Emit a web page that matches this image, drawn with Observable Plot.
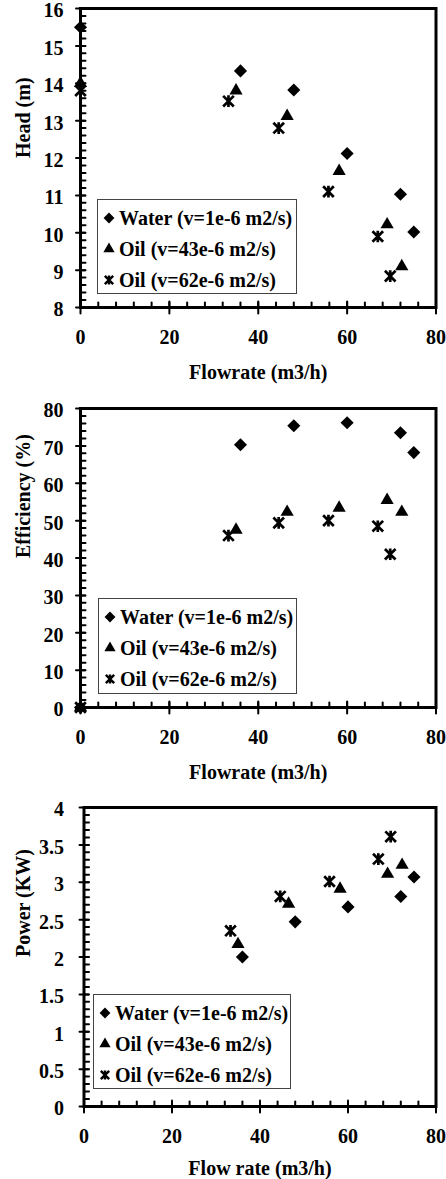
<!DOCTYPE html>
<html><head><meta charset="utf-8">
<script src="https://cdn.jsdelivr.net/npm/d3@7"></script>
<script src="https://cdn.jsdelivr.net/npm/@observablehq/plot@0.6"></script>
<style>
body{margin:0;background:#fff;}
#root{width:446px;}
.panel{position:relative;width:446px;}
.panel svg{display:block;}
g[aria-label="xtitle"] text{letter-spacing:1px;}
.legend{position:absolute;border:1px solid #444;background:#fff;box-sizing:border-box;font:bold 20px "Liberation Serif","Times New Roman",serif;color:#000;}
.row{position:absolute;left:0;height:30px;display:flex;align-items:center;white-space:nowrap;}
.row svg{margin-left:4px;margin-right:3px;}
</style></head><body><div id="root"></div>
<script>
// ---- data ----
const seriesNames = ["Water (v=1e-6 m2/s)", "Oil (v=43e-6 m2/s)", "Oil (v=62e-6 m2/s)"];
const flowWater = [0, 36, 48, 60, 72, 75];
const flowOil43 = [0, 35, 46.5, 58.2, 69, 72.3];
const flowOil62 = [0, 33.3, 44.6, 55.8, 66.9, 69.7];

const headWater = [15.5, 14.33, 13.82, 12.12, 11.03, 10.02];
const headOil43 = [14.0, 13.8, 13.12, 11.65, 10.22, 9.1];
const headOil62 = [13.8, 13.52, 12.8, 11.1, 9.9, 8.84];

const effWater = [0, 70.3, 75.4, 76.2, 73.5, 68.2];
const effOil43 = [0, 47.5, 52.3, 53.4, 55.5, 52.3];
const effOil62 = [0, 46, 49.4, 50, 48.5, 41];

const powerWater = [null, 2.0, 2.47, 2.67, 2.81, 3.07];
const powerOil43 = [null, 2.17, 2.71, 2.91, 3.11, 3.23];
const powerOil62 = [null, 2.35, 2.81, 3.01, 3.31, 3.61];

const flowTicks = [0, 20, 40, 60, 80];
const headTicks = [8, 9, 10, 11, 12, 13, 14, 15, 16];
const effTicks = [0, 10, 20, 30, 40, 50, 60, 70, 80];
const powerTicks = [0, 0.5, 1, 1.5, 2, 2.5, 3, 3.5, 4];

// ---- helpers ----
const FONT = '"Liberation Serif","Times New Roman",serif';
const FS = 20;
const tickShape = {draw(ctx, l) { ctx.moveTo(0, 0); ctx.lineTo(0, -l); }};
const star = {draw(ctx, size) {
  const r = Math.sqrt(size) / 2;
  ctx.moveTo(-r, -r); ctx.lineTo(r, r);
  ctx.moveTo(-r, r); ctx.lineTo(r, -r);
  ctx.moveTo(0, -r * 1.1); ctx.lineTo(0, r * 1.1);
}};
const styles = [
  {symbol: "diamond2", r: 5.9, fill: "black", stroke: "none"},
  {symbol: "triangle", r: 4.9, fill: "black", stroke: "none"},
  {symbol: star, r: 6.0, fill: "none", stroke: "black", strokeWidth: 2.7}
];
function pairs(flows, vals) {
  return flows.map((f, i) => ({flow: f, v: vals[i]})).filter(d => d.v != null);
}
function range(a, b, s) { const out = []; for (let i = 0; a + i * s <= b + 1e-9; i++) out.push(+(a + i * s).toFixed(6)); return out; }

function panel({sets, yDomain, yMajor, yStep, yLabel, xLabel, marginLeft, height, yLabelDx, yTitleDx, xTitleDy, legend}) {
  const wrap = document.createElement("div");
  wrap.className = "panel";
  const textOpts = {fontSize: FS, fontWeight: "bold", fontFamily: FONT, fill: "black"};
  const tickOpts = {shape: tickShape, stroke: "black", strokeWidth: 2};
  const yMinor = range(yDomain[0], yDomain[1], yStep);
  const xMinor = range(0, 80, 4);
  const plot = Plot.plot({
    width: 446, height,
    marginTop: 8, marginRight: 10.5, marginLeft, marginBottom: height - 8 - 299,
    x: {domain: [0, 80], axis: null},
    y: {domain: yDomain, axis: null},
    style: {fontFamily: FONT, background: "white", color: "black", overflow: "visible"},
    marks: [
      Plot.frame({stroke: "black", strokeWidth: 3}),
      Plot.vector(xMinor, {x: d => d, frameAnchor: "bottom", length: 5, anchor: "start", ...tickOpts}),
      Plot.vector(flowTicks, {x: d => d, frameAnchor: "bottom", length: 12, anchor: "middle", ...tickOpts}),
      Plot.vector(yMinor, {y: d => d, frameAnchor: "left", length: 5, rotate: 90, anchor: "start", ...tickOpts}),
      Plot.vector(yMajor, {y: d => d, frameAnchor: "left", length: 9, rotate: 90, anchor: "middle", ...tickOpts}),
      Plot.text(flowTicks, {x: d => d, frameAnchor: "bottom", dy: 30, text: d => String(d), lineAnchor: "middle", ...textOpts}),
      Plot.text(yMajor, {y: d => d, frameAnchor: "left", dx: yLabelDx, dy: 2.5, textAnchor: "end", lineAnchor: "middle", text: d => String(d), ...textOpts}),
      Plot.text([xLabel], {frameAnchor: "bottom", dy: xTitleDy, lineAnchor: "middle", text: d => d, ariaLabel: "xtitle", ...textOpts}),
      Plot.text([yLabel], {frameAnchor: "left", dx: yTitleDx, rotate: -90, lineAnchor: "middle", text: d => d, ...textOpts}),
      ...sets.map((data, i) => Plot.dot(data, {x: "flow", y: "v", ...styles[i]}))
    ]
  });
  wrap.appendChild(plot);
  // legend
  const lg = document.createElement("div");
  lg.className = "legend";
  Object.assign(lg.style, {left: legend.left + "px", top: legend.top + "px", width: legend.width + "px", height: legend.height + "px"});
  seriesNames.forEach((name, i) => {
    const row = document.createElement("div");
    row.className = "row";
    row.style.top = (19 + i * 31 - 15 - 1) + "px";
    const svg = d3.create("svg").attr("width", 14).attr("height", 14);
    const st = styles[i];
    const sym = typeof st.symbol === "string" ? {diamond2: d3.symbolDiamond2, triangle: d3.symbolTriangle}[st.symbol] : st.symbol;
    const size = i === 2 ? 70 : (i === 0 ? 75 : 55);
    svg.append("path").attr("transform", "translate(7,7)")
      .attr("d", d3.symbol(sym, size)())
      .attr("fill", st.fill).attr("stroke", st.stroke).attr("stroke-width", i === 2 ? 2.4 : 0);
    row.appendChild(svg.node());
    const sp = document.createElement("span");
    sp.textContent = name;
    row.appendChild(sp);
    lg.appendChild(row);
  });
  wrap.appendChild(lg);
  return wrap;
}

const root = document.getElementById("root");
root.appendChild(panel({
  sets: [pairs(flowWater, headWater), pairs(flowOil43, headOil43), pairs(flowOil62, headOil62)],
  yDomain: [8, 16], yMajor: headTicks, yStep: 0.2,
  yLabel: "Head (m)", xLabel: "Flowrate (m3/h)",
  marginLeft: 80, height: 400, yLabelDx: -17, yTitleDx: -57, xTitleDy: 65,
  legend: {left: 97, top: 199, width: 200, height: 95}
}));
root.appendChild(panel({
  sets: [pairs(flowWater, effWater), pairs(flowOil43, effOil43), pairs(flowOil62, effOil62)],
  yDomain: [0, 80], yMajor: effTicks, yStep: 2,
  yLabel: "Efficiency (%)", xLabel: "Flowrate (m3/h)",
  marginLeft: 80, height: 399, yLabelDx: -17, yTitleDx: -57, xTitleDy: 65,
  legend: {left: 98, top: 198, width: 199, height: 96}
}));
root.appendChild(panel({
  sets: [pairs(flowWater, powerWater), pairs(flowOil43, powerOil43), pairs(flowOil62, powerOil62)],
  yDomain: [0, 4], yMajor: powerTicks, yStep: 0.1,
  yLabel: "Power (KW)", xLabel: "Flow rate (m3/h)",
  marginLeft: 83.5, height: 380, yLabelDx: -20, yTitleDx: -60.5, xTitleDy: 62,
  legend: {left: 93, top: 195, width: 198, height: 95}
}));
</script></body></html>
